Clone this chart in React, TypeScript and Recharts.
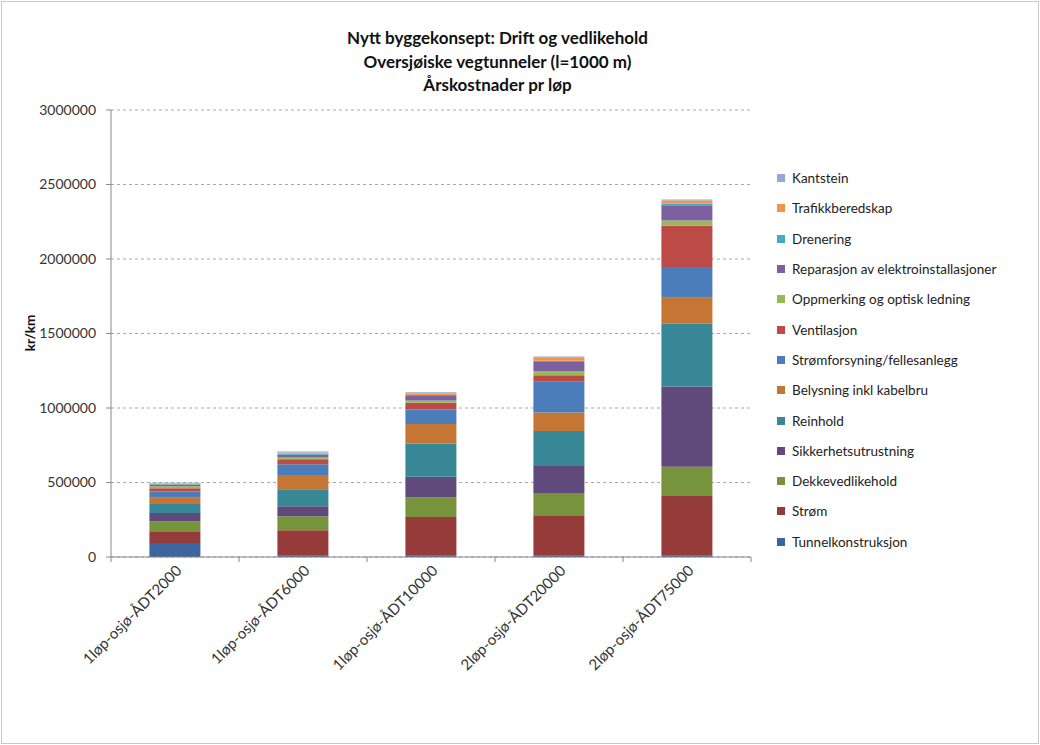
import React from "react";
import { BarChart, Bar, XAxis, YAxis, CartesianGrid } from "recharts";

// Tunnel concepts (x axis)
const categories = [
  "1løp-osjø-ÅDT2000",
  "1løp-osjø-ÅDT6000",
  "1løp-osjø-ÅDT10000",
  "2løp-osjø-ÅDT20000",
  "2løp-osjø-ÅDT75000",
];

// Annual cost per km for each cost item, bottom to top in the stack
const tunnelkonstruksjon = [94000, 9000, 9000, 9000, 9000];
const strom = [78000, 170000, 260000, 271000, 405000];
const dekkevedlikehold = [67000, 94000, 130000, 150000, 192000];
const sikkerhetsutrustning = [56000, 67000, 139000, 181000, 539000];
const reinhold = [60000, 114000, 224000, 235000, 421000];
const belysning = [42000, 96000, 130000, 123000, 174000];
const stromforsyning = [42000, 72000, 98000, 208000, 206000];
const ventilasjon = [22000, 34000, 45000, 42000, 277000];
const oppmerking = [13000, 11000, 16000, 29000, 36000];
const reparasjon = [9000, 20000, 29000, 60000, 101000];
const drenering = [5000, 7000, 7000, 9000, 11000];
const trafikkberedskap = [5000, 7000, 11000, 20000, 22000];
const kantstein = [5000, 7000, 7000, 9000, 7000];

const yTicks = [0, 500000, 1000000, 1500000, 2000000, 2500000, 3000000];

const series = [
  { key: "Tunnelkonstruksjon", values: tunnelkonstruksjon, color: "#3C65A0" },
  { key: "Strøm", values: strom, color: "#953B3A" },
  { key: "Dekkevedlikehold", values: dekkevedlikehold, color: "#77933C" },
  { key: "Sikkerhetsutrustning", values: sikkerhetsutrustning, color: "#604A7B" },
  { key: "Reinhold", values: reinhold, color: "#378797" },
  { key: "Belysning inkl kabelbru", values: belysning, color: "#C57634" },
  { key: "Strømforsyning/fellesanlegg", values: stromforsyning, color: "#4A7DBA" },
  { key: "Ventilasjon", values: ventilasjon, color: "#BC4B48" },
  { key: "Oppmerking og optisk ledning", values: oppmerking, color: "#98B954" },
  { key: "Reparasjon av elektroinstallasjoner", values: reparasjon, color: "#7D60A0" },
  { key: "Drenering", values: drenering, color: "#46AAC5" },
  { key: "Trafikkberedskap", values: trafikkberedskap, color: "#F69446" },
  { key: "Kantstein", values: kantstein, color: "#8FAADA" },
];

const data = categories.map((name, i) => {
  const row: Record<string, string | number> = { name };
  series.forEach((s) => {
    row[s.key] = s.values[i];
  });
  return row;
});

const FONT = "Lato, 'Open Sans', sans-serif";

const CHART_W = 1040;
const CHART_H = 745;
const MARGIN = { top: 110, right: 289, bottom: 38, left: 41 };
const Y_AXIS_W = 70;
const PLOT_W = CHART_W - MARGIN.left - MARGIN.right - Y_AXIS_W;
const BAND = PLOT_W / categories.length;

// category label, plus Excel-style tick marks on the band edges
function XTick(props: any) {
  const { x, y, payload, index } = props;
  const left = x - BAND / 2;
  const right = x + BAND / 2;
  return (
    <g>
      <line x1={left} x2={left} y1={y - 8} y2={y - 3} stroke="#888" />
      {index === categories.length - 1 && (
        <line x1={right} x2={right} y1={y - 8} y2={y - 3} stroke="#888" />
      )}
      <text
        x={0}
        y={0}
        transform={`translate(${x + 5},${y + 4}) rotate(-45)`}
        textAnchor="end"
        dominantBaseline="middle"
        fontSize={15}
        fontFamily={FONT}
        fill="#333"
      >
        {payload.value}
      </text>
    </g>
  );
}

function LegendList() {
  // legend lists the top of the stack first
  const items = [...series].reverse();
  return (
    <div
      style={{
        position: "absolute",
        left: 777,
        top: 163,
        fontFamily: FONT,
        fontSize: 13.5,
        color: "#222",
      }}
    >
      {items.map((s) => (
        <div
          key={s.key}
          style={{ display: "flex", alignItems: "center", height: 30.3 }}
        >
          <span
            style={{
              display: "inline-block",
              width: 8,
              height: 8,
              background: s.color,
              marginRight: 7,
            }}
          />
          <span>{s.key}</span>
        </div>
      ))}
    </div>
  );
}

export default function App() {
  return (
    <div
      style={{
        position: "fixed",
        left: 0,
        top: 0,
        width: CHART_W,
        height: CHART_H,
        background: "#fff",
      }}
    >
      <div
        style={{
          position: "absolute",
          left: 1,
          top: 1,
          width: 1036,
          height: 741,
          border: "1px solid #c8c8c8",
        }}
      />
      <div
        style={{
          position: "absolute",
          left: 0,
          top: 26,
          width: 995,
          textAlign: "center",
          fontFamily: FONT,
          fontWeight: 700,
          fontSize: 17,
          lineHeight: "23.5px",
          color: "#111",
        }}
      >
        <div>Nytt byggekonsept: Drift og vedlikehold</div>
        <div>Oversjøiske vegtunneler (l=1000 m)</div>
        <div>Årskostnader pr løp</div>
      </div>
      <div
        style={{
          position: "absolute",
          left: 30,
          top: 333,
          transform: "translate(-50%, -50%) rotate(-90deg)",
          fontFamily: FONT,
          fontWeight: 700,
          fontSize: 13.5,
          color: "#111",
        }}
      >
        kr/km
      </div>
      <BarChart
        width={CHART_W}
        height={CHART_H}
        data={data}
        margin={MARGIN}
        barCategoryGap="30%"
        style={{ position: "absolute", left: 0, top: 0 }}
      >
        <CartesianGrid
          vertical={false}
          stroke="#a8a8a8"
          strokeDasharray="3 3"
        />
        <XAxis
          dataKey="name"
          height={150}
          interval={0}
          tick={<XTick />}
          tickLine={false}
          tickSize={0}
          tickMargin={8}
          axisLine={{ stroke: "#888" }}
        />
        <YAxis
          width={Y_AXIS_W}
          domain={[0, 3000000]}
          ticks={yTicks}
          interval={0}
          tick={{ fill: "#333", fontSize: 14, fontFamily: FONT }}
          tickLine={{ stroke: "#888" }}
          axisLine={{ stroke: "#888" }}
          tickSize={5}
          tickMargin={10}
        />
        {series.map((s) => (
          <Bar
            key={s.key}
            dataKey={s.key}
            stackId="cost"
            fill={s.color}
            isAnimationActive={false}
          />
        ))}
      </BarChart>
      <LegendList />
    </div>
  );
}
